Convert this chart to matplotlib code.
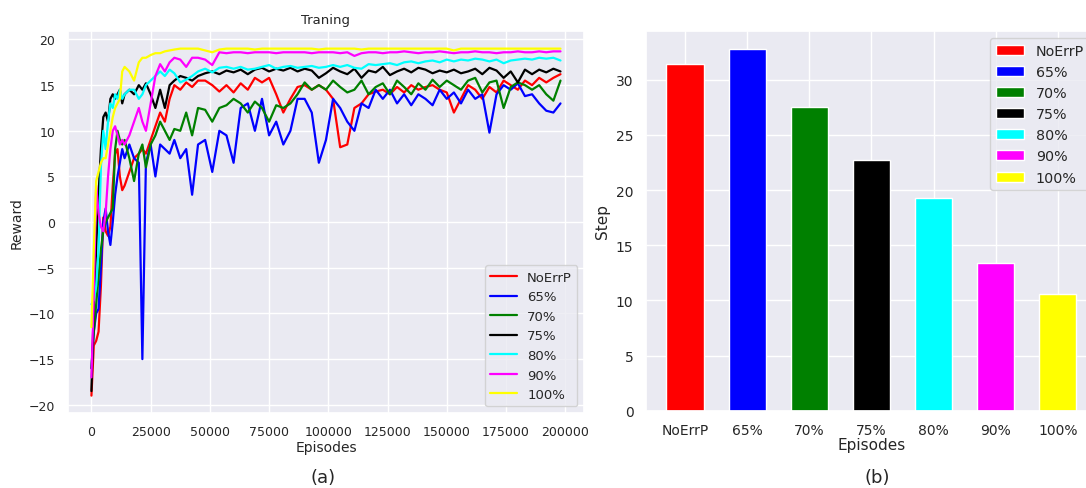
import matplotlib
matplotlib.use("Agg")
import matplotlib.pyplot as plt
import seaborn as sns

# ---- data ----
labels = ["NoErrP", "65%", "70%", "75%", "80%", "90%", "100%"]
colors = ["red", "blue", "green", "black", "cyan", "magenta", "yellow"]

episodes = [0, 1000, 2000, 3000, 4000, 5000, 6000, 7000, 8000, 9000,
            10000, 11000, 12000, 13000, 14000, 16000, 18000, 20000, 21500, 23000,
            25000, 27000, 29000, 31000, 33000, 35000, 37500, 40000, 42500, 45000,
            48000, 51000, 54000, 57000, 60000, 63000, 66000, 69000, 72000, 75000,
            78000, 81000, 84000, 87000, 90000, 93000, 96000, 99000, 102000, 105000,
            108000, 111000, 114000, 117000, 120000, 123000, 126000, 129000, 132000, 135000,
            138000, 141000, 144000, 147000, 150000, 153000, 156000, 159000, 162000, 165000,
            168000, 171000, 174000, 177000, 180000, 183000, 186000, 189000, 192000, 195000,
            198000]

reward_noerrp = [-19, -13.5, -13, -12, -7, 0.5, -1, -1.5, -0.5, 4,
                 7.5, 8, 5, 3.5, 4, 5.5, 7, 7.5, 8, 7.5,
                 9, 10.5, 12, 11, 13.5, 15, 14.5, 15.3, 14.8, 15.5,
                 15.5, 15, 14.3, 15, 14.2, 15.2, 14.5, 15.8, 15.3, 15.8,
                 14, 12, 13.5, 14.8, 15, 14.5, 15, 14.5, 13.5, 8.2,
                 8.5, 12.5, 13, 14, 14.3, 14.5, 14, 14.8, 14.2, 15,
                 14.5, 14.8, 15, 14.5, 14.2, 12, 13.5, 15, 14.5, 13.5,
                 14.8, 14.2, 15.5, 15, 14.5, 15.5, 15, 15.8, 15.3, 15.8,
                 16.2]
reward_65 = [-16, -12, -10, -9.5, -5, 0, 1.5, -1, -2.5, 0,
             3, 5, 6.5, 8, 7, 8.5, 7, 6.5, -15, 6.5,
             8.5, 5, 8.5, 8, 7.5, 9, 7, 8, 3, 8.5,
             9, 5.5, 10, 9.5, 6.5, 12.5, 13, 10, 13.5, 9.5,
             11, 8.5, 10, 13.5, 13.5, 12, 6.5, 9, 13.5, 12.5,
             11, 10, 13, 12.5, 14.5, 13.5, 14.5, 13, 14, 12.8,
             14, 13.5, 12.8, 14.5, 13.5, 14.2, 13, 14.5, 13.5, 14,
             9.8, 14, 15, 14.5, 15.2, 13.8, 14, 13, 12.2, 12,
             13]
reward_70 = [-16, -12, -9, -6, -3, -1, 0, 0.5, 1, 1.5,
             8, 10, 9, 8.5, 9, 7, 4.5, 7.5, 8.5, 6,
             8.5, 9.5, 11, 10, 9, 10.2, 10, 12, 9.5, 12.5,
             12.3, 11, 12.5, 12.8, 13.5, 13, 12, 13.2, 12.5, 11,
             12.8, 12.5, 13, 14, 15.3, 14.5, 15, 14.5, 15.5, 14.8,
             14.2, 14.5, 15.5, 14, 14.8, 15.2, 14, 15.5, 14.8, 14,
             15.2, 14.5, 15.6, 14.8, 15.5, 15, 14.5, 15.5, 15.8, 14.2,
             15.3, 15.5, 12.5, 14.8, 15.3, 15, 14.5, 15, 14, 13.3,
             15.5]
reward_75 = [-18.5, -9, -3, 3, 8, 11.5, 12, 11, 13.5, 14,
             13.5, 14, 14.5, 13, 14, 14.5, 14, 15, 14.5, 15.2,
             14, 12.5, 14.5, 12.5, 15, 15.5, 16, 15.8, 15.5, 16,
             16.3, 16.5, 16.2, 16.6, 16.4, 16.7, 16.2, 16.7, 16.9, 16.5,
             16.8, 16.6, 16.9, 16.5, 16.8, 16.6, 15.8, 16.3, 16.9, 16.5,
             16.2, 16.8, 15.8, 16.6, 16.4, 17, 16.1, 16.5, 16.8, 16.4,
             16.9, 16.7, 16.3, 16.6, 16.4, 16.7, 16.3, 16.5, 16.8, 16.2,
             16.9, 16.6, 15.8, 16.5, 15.3, 16.7, 16.2, 16.7, 16.4, 16.8,
             16.5]
reward_80 = [-9, -8.5, -7, -3, 6, 10, 8, 11, 13, 12.5,
             14, 13.5, 14.5, 13.5, 14, 14.5, 14.5, 13.5, 14, 15,
             15.5, 16, 16.5, 16, 16.7, 16.3, 15.3, 15.6, 16, 16.5,
             16.8, 16.4, 16.9, 17, 16.8, 17, 16.7, 16.8, 17, 17.2,
             16.8, 17, 17.1, 16.9, 17, 17.1, 16.9, 17, 17.2, 17,
             17.2, 16.9, 16.8, 17.3, 17.2, 17.3, 17.4, 17.2, 17.5, 17.6,
             17.4, 17.6, 17.7, 17.5, 17.8, 17.6, 17.8, 17.7, 17.9, 17.8,
             17.6, 17.8, 17.4, 17.7, 17.8, 17.9, 17.8, 18, 17.9, 18,
             17.7]
reward_90 = [-17, -8, 4, 1, -0.5, -1, 1, 5, 8, 10,
             10.5, 9.5, 8.5, 9, 8.5, 9.5, 11, 12.5, 11, 10,
             13, 16, 17.3, 16.5, 17.5, 18, 17.8, 17, 18, 18,
             17.8, 17.2, 18.6, 18.5, 18.6, 18.6, 18.5, 18.6, 18.6, 18.6,
             18.5, 18.6, 18.6, 18.6, 18.6, 18.5, 18.6, 18.6, 18.6, 18.5,
             18.6, 18.2, 18.5, 18.6, 18.6, 18.5, 18.6, 18.6, 18.7, 18.6,
             18.5, 18.6, 18.6, 18.7, 18.6, 18.5, 18.6, 18.6, 18.7, 18.6,
             18.6, 18.5, 18.6, 18.6, 18.7, 18.6, 18.6, 18.7, 18.6, 18.7,
             18.7]
reward_100 = [-11.5, -3, 4.5, 5.5, 6.5, 7, 7, 8.5, 10, 11.5,
              12.5, 13, 13.5, 16.5, 17, 16.5, 15.5, 17.5, 18, 18,
              18.3, 18.5, 18.5, 18.7, 18.8, 18.9, 19, 19, 19, 19,
              18.8, 18.6, 18.9, 19, 19, 19, 19, 18.9, 19, 19,
              19, 19, 19, 19, 19, 19, 18.9, 19, 19, 19,
              19, 19, 18.9, 19, 19, 19, 19, 19, 19, 19,
              19, 19, 19, 19, 19, 18.8, 19, 19, 19, 19,
              19, 19, 19, 19, 19, 19, 19, 19, 19, 19,
              19]
rewards = [reward_noerrp, reward_65, reward_70, reward_75, reward_80, reward_90, reward_100]

steps = [31.4, 32.8, 27.5, 22.75, 19.3, 13.4, 10.6]

sns.set_theme(style="darkgrid")

fig = plt.figure(figsize=(10.86, 4.89), dpi=100)

# (a) training curves
ax1 = fig.add_axes([0.0626, 0.1534, 0.4751, 0.7806])
for r, lab, c in zip(rewards, labels, colors):
    ax1.plot(episodes, r, color=c, lw=1.6, label=lab)
ax1.set_title("Traning", fontsize=9.5, pad=6)
ax1.set_xlabel("Episodes", fontsize=10, labelpad=1)
ax1.set_ylabel("Reward", fontsize=10)
ax1.set_xticks([0, 25000, 50000, 75000, 100000, 125000, 150000, 175000, 200000])
ax1.set_yticks([-20, -15, -10, -5, 0, 5, 10, 15, 20])
ax1.tick_params(labelsize=9, pad=3)
ax1.legend(loc="lower right", fontsize=9.5)

# (b) steps per level
ax2 = fig.add_axes([0.5948, 0.158, 0.4153, 0.777])
ax2.bar(labels, steps, color=colors, width=0.6, label=labels)
ax2.set_xlabel("Episodes", fontsize=11, labelpad=0)
ax2.set_ylabel("Step", fontsize=11)
ax2.tick_params(labelsize=10, pad=3)
ax2.legend(loc="upper right", fontsize=10.3)

fig.text(0.2974, 0.022, "(a)", ha="center", va="center", fontsize=13)
fig.text(0.8076, 0.022, "(b)", ha="center", va="center", fontsize=13)

fig.savefig("out.png", dpi=100)
